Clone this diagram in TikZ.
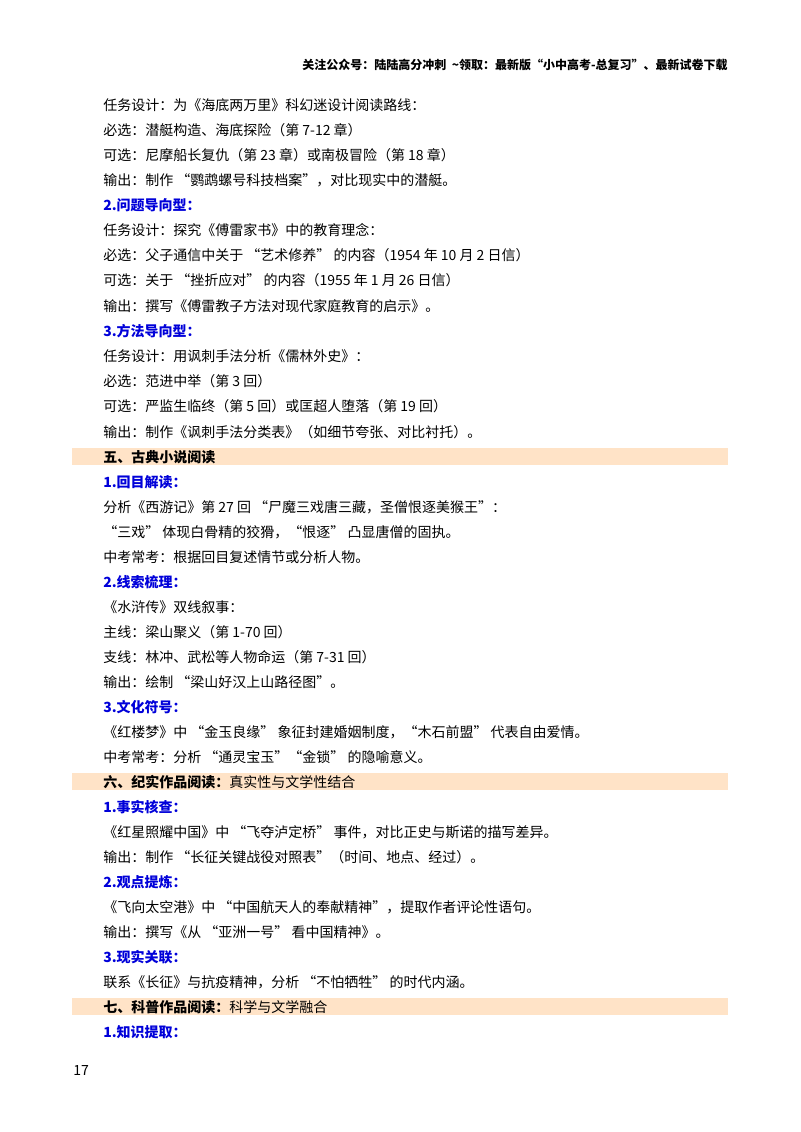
\documentclass[tikz,border=0pt]{standalone}
\usepackage{fontspec}
\setmainfont{Noto Sans CJK SC}
\begin{document}
\begin{tikzpicture}[x=0.75pt,y=-0.75pt,
  t/.style={anchor=west,inner sep=0pt,font=\fontsize{10.5}{12}\selectfont},
  hb/.style={t,font=\fontsize{10.5}{12}\selectfont\bfseries,text=blue!85!black},
  bar/.style={fill=orange!22,draw=none}]
\useasboundingbox (0,0) rectangle (800,1132);
\node[anchor=east,inner sep=0pt,font=\fontsize{9}{10}\selectfont\bfseries] (hdr) at (728,65) {关注公众号：陆陆高分冲刺\ \ \textasciitilde 领取：最新版“小中高考-总复习”、最新试卷下载};
\node[t] (l1) at (103,105) {任务设计：为《海底两万里》科幻迷设计阅读路线：};
\node[t] (l2) at (103,130) {必选：潜艇构造、海底探险（第 7-12 章）};
\node[t] (l3) at (103,155) {可选：尼摩船长复仇（第 23 章）或南极冒险（第 18 章）};
\node[t] (l4) at (103,180) {输出：制作 “鹦鹉螺号科技档案”，对比现实中的潜艇。};
\node[hb] (h2) at (103,205) {2.问题导向型：};
\node[t] (l5) at (103,230) {任务设计：探究《傅雷家书》中的教育理念：};
\node[t] (l6) at (103,255) {必选：父子通信中关于 “艺术修养” 的内容（1954 年 10 月 2 日信）};
\node[t] (l7) at (103,280) {可选：关于 “挫折应对” 的内容（1955 年 1 月 26 日信）};
\node[t] (l8) at (103,306) {输出：撰写《傅雷教子方法对现代家庭教育的启示》。};
\node[hb] (h3) at (103,331) {3.方法导向型：};
\node[t] (l9) at (103,356) {任务设计：用讽刺手法分析《儒林外史》：};
\node[t] (l10) at (103,381) {必选：范进中举（第 3 回）};
\node[t] (l11) at (103,406) {可选：严监生临终（第 5 回）或匡超人堕落（第 19 回）};
\node[t] (l12) at (103,432) {输出：制作《讽刺手法分类表》（如细节夸张、对比衬托）。};
\fill[bar] (72,448) rectangle (728,465);
\node[t,font=\fontsize{10.5}{12}\selectfont\bfseries] (s5) at (103,457) {五、古典小说阅读};
\node[hb] (h51) at (103,482) {1.回目解读：};
\node[t] (m1) at (103,507) {分析《西游记》第 27 回 “尸魔三戏唐三藏，圣僧恨逐美猴王”：};
\node[t] (m2) at (103,532) {“三戏” 体现白骨精的狡猾，“恨逐” 凸显唐僧的固执。};
\node[t] (m3) at (103,557) {中考常考：根据回目复述情节或分析人物。};
\node[hb] (h52) at (103,582) {2.线索梳理：};
\node[t] (m4) at (103,607) {《水浒传》双线叙事：};
\node[t] (m5) at (103,632) {主线：梁山聚义（第 1-70 回）};
\node[t] (m6) at (103,657) {支线：林冲、武松等人物命运（第 7-31 回）};
\node[t] (m7) at (103,682) {输出：绘制 “梁山好汉上山路径图”。};
\node[hb] (h53) at (103,707) {3.文化符号：};
\node[t] (m8) at (103,732) {《红楼梦》中 “金玉良缘” 象征封建婚姻制度，“木石前盟” 代表自由爱情。};
\node[t] (m9) at (103,757) {中考常考：分析 “通灵宝玉”“金锁” 的隐喻意义。};
\fill[bar] (72,773) rectangle (728,790);
\node[t] (s6) at (103,782) {\textbf{六、纪实作品阅读：}真实性与文学性结合};
\node[hb] (h61) at (103,807) {1.事实核查：};
\node[t] (n1) at (103,832) {《红星照耀中国》中 “飞夺泸定桥” 事件，对比正史与斯诺的描写差异。};
\node[t] (n2) at (103,857) {输出：制作 “长征关键战役对照表”（时间、地点、经过）。};
\node[hb] (h62) at (103,882) {2.观点提炼：};
\node[t] (n3) at (103,907) {《飞向太空港》中 “中国航天人的奉献精神”，提取作者评论性语句。};
\node[t] (n4) at (103,932) {输出：撰写《从 “亚洲一号” 看中国精神》。};
\node[hb] (h63) at (103,957) {3.现实关联：};
\node[t] (n5) at (103,982) {联系《长征》与抗疫精神，分析 “不怕牺牲” 的时代内涵。};
\fill[bar] (72,998) rectangle (728,1015);
\node[t] (s7) at (103,1007) {\textbf{七、科普作品阅读：}科学与文学融合};
\node[hb] (h71) at (103,1032) {1.知识提取：};
\node[t] (pg) at (73,1070) {17};
\end{tikzpicture}
\end{document}
